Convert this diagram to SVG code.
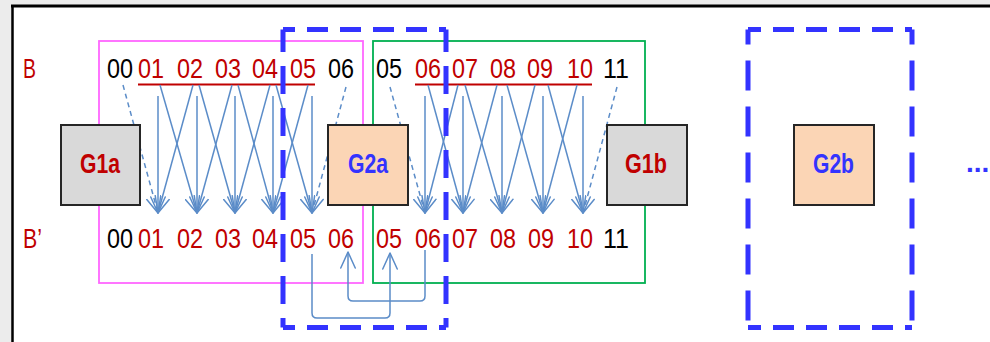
<svg xmlns="http://www.w3.org/2000/svg" width="990" height="342" viewBox="0 0 990 342">
<style>
.num{font-family:"Liberation Sans",Arial,sans-serif;font-size:28px}
.r{fill:#c00000}
.k{fill:#000000}
.gl{font-family:"Liberation Sans",Arial,sans-serif;font-size:28px;font-weight:bold}
.gr{fill:#c00000}
.gb{fill:#3333ff}
.box{stroke:#262626;stroke-width:2}
.gray{fill:#d9d9d9}
.peach{fill:#fbd5b5}
.c{fill:none;stroke:#5b8cc8;stroke-width:1.5;marker-end:url(#ah)}
.d{stroke-dasharray:5 4}
.ul{stroke:#c00000;stroke-width:2}
.bd{fill:none;stroke:#3333ff;stroke-width:5}
.dh{stroke-dasharray:21 12}
.dv{stroke-dasharray:28 14}
.dv2{stroke-dasharray:30 16}
</style>
<defs>
<marker id="ah" viewBox="0 0 18 16" refX="17" refY="8" markerWidth="18" markerHeight="16" markerUnits="userSpaceOnUse" orient="auto">
<path d="M1,0.75 L17,8 L1,15.25" fill="none" stroke="#5b8cc8" stroke-width="1.5" stroke-linejoin="round" stroke-linecap="round"/>
</marker>
</defs>
<rect x="0" y="0" width="990" height="342" fill="#ececec"/>
<rect x="12" y="6" width="978" height="336" fill="#ffffff"/>
<line x1="11" y1="6" x2="990" y2="6" stroke="#000" stroke-width="3"/>
<line x1="12.5" y1="5" x2="12.5" y2="342" stroke="#000" stroke-width="2.5"/>

<g id="frames">
<rect x="99" y="41" width="264" height="242" fill="none" stroke="#ff66ff" stroke-width="1.8"/>
<rect x="373" y="41" width="272" height="242" fill="none" stroke="#00b050" stroke-width="1.8"/>
</g>

<g id="row-labels">
<text class="num r" x="23" y="78" textLength="13" lengthAdjust="spacingAndGlyphs">B</text>
<text class="num r" x="23" y="248" textLength="19" lengthAdjust="spacingAndGlyphs">B’</text>
</g>

<g id="row-B">
<text class="num k" x="107" y="78" textLength="26" lengthAdjust="spacingAndGlyphs">00</text>
<text class="num r" x="138" y="78" textLength="26" lengthAdjust="spacingAndGlyphs">01</text>
<text class="num r" x="177" y="78" textLength="26" lengthAdjust="spacingAndGlyphs">02</text>
<text class="num r" x="215" y="78" textLength="26" lengthAdjust="spacingAndGlyphs">03</text>
<text class="num r" x="252" y="78" textLength="26" lengthAdjust="spacingAndGlyphs">04</text>
<text class="num r" x="290" y="78" textLength="26" lengthAdjust="spacingAndGlyphs">05</text>
<text class="num k" x="328" y="78" textLength="26" lengthAdjust="spacingAndGlyphs">06</text>
<text class="num k" x="376" y="78" textLength="26" lengthAdjust="spacingAndGlyphs">05</text>
<text class="num r" x="415" y="78" textLength="26" lengthAdjust="spacingAndGlyphs">06</text>
<text class="num r" x="452" y="78" textLength="26" lengthAdjust="spacingAndGlyphs">07</text>
<text class="num r" x="490" y="78" textLength="26" lengthAdjust="spacingAndGlyphs">08</text>
<text class="num r" x="527" y="78" textLength="26" lengthAdjust="spacingAndGlyphs">09</text>
<text class="num r" x="567" y="78" textLength="26" lengthAdjust="spacingAndGlyphs">10</text>
<text class="num k" x="603" y="78" textLength="26" lengthAdjust="spacingAndGlyphs">11</text>
<line class="ul" x1="138" y1="84.5" x2="315" y2="84.5"/>
<line class="ul" x1="415" y1="84.5" x2="592" y2="84.5"/>
</g>

<g id="row-Bprime">
<text class="num k" x="107" y="248" textLength="26" lengthAdjust="spacingAndGlyphs">00</text>
<text class="num r" x="138" y="248" textLength="26" lengthAdjust="spacingAndGlyphs">01</text>
<text class="num r" x="177" y="248" textLength="26" lengthAdjust="spacingAndGlyphs">02</text>
<text class="num r" x="215" y="248" textLength="26" lengthAdjust="spacingAndGlyphs">03</text>
<text class="num r" x="252" y="248" textLength="26" lengthAdjust="spacingAndGlyphs">04</text>
<text class="num r" x="290" y="248" textLength="26" lengthAdjust="spacingAndGlyphs">05</text>
<text class="num r" x="328" y="248" textLength="26" lengthAdjust="spacingAndGlyphs">06</text>
<text class="num r" x="376" y="248" textLength="26" lengthAdjust="spacingAndGlyphs">05</text>
<text class="num r" x="415" y="248" textLength="26" lengthAdjust="spacingAndGlyphs">06</text>
<text class="num r" x="452" y="248" textLength="26" lengthAdjust="spacingAndGlyphs">07</text>
<text class="num r" x="490" y="248" textLength="26" lengthAdjust="spacingAndGlyphs">08</text>
<text class="num r" x="528" y="248" textLength="26" lengthAdjust="spacingAndGlyphs">09</text>
<text class="num r" x="567" y="248" textLength="26" lengthAdjust="spacingAndGlyphs">10</text>
<text class="num k" x="603" y="248" textLength="26" lengthAdjust="spacingAndGlyphs">11</text>
</g>

<g id="connectors">
<line class="c d" x1="123" y1="85" x2="158" y2="213"/>
<line class="c" x1="158" y1="96" x2="158" y2="213"/>
<line class="c" x1="197" y1="96" x2="197" y2="213"/>
<line class="c" x1="235" y1="96" x2="235" y2="213"/>
<line class="c" x1="273" y1="96" x2="273" y2="213"/>
<line class="c" x1="312" y1="96" x2="312" y2="213"/>
<line class="c" x1="160" y1="85" x2="197" y2="213"/>
<line class="c" x1="199" y1="85" x2="235" y2="213"/>
<line class="c" x1="238" y1="85" x2="273" y2="213"/>
<line class="c" x1="276" y1="85" x2="312" y2="213"/>
<line class="c" x1="193" y1="85" x2="158" y2="213"/>
<line class="c" x1="232" y1="85" x2="197" y2="213"/>
<line class="c" x1="270" y1="85" x2="235" y2="213"/>
<line class="c" x1="308" y1="85" x2="273" y2="213"/>
<line class="c d" x1="346" y1="87" x2="312" y2="213"/>

<line class="c d" x1="390" y1="87" x2="425" y2="213"/>
<line class="c" x1="425" y1="96" x2="425" y2="213"/>
<line class="c" x1="463" y1="96" x2="463" y2="213"/>
<line class="c" x1="502" y1="96" x2="502" y2="213"/>
<line class="c" x1="543" y1="96" x2="543" y2="213"/>
<line class="c" x1="583" y1="96" x2="583" y2="213"/>
<line class="c" x1="428" y1="85" x2="463" y2="213"/>
<line class="c" x1="465" y1="85" x2="502" y2="213"/>
<line class="c" x1="507" y1="85" x2="543" y2="213"/>
<line class="c" x1="548" y1="85" x2="583" y2="213"/>
<line class="c" x1="458" y1="85" x2="425" y2="213"/>
<line class="c" x1="497" y1="85" x2="463" y2="213"/>
<line class="c" x1="535" y1="85" x2="502" y2="213"/>
<line class="c" x1="577" y1="85" x2="543" y2="213"/>
<line class="c d" x1="617" y1="87" x2="583" y2="213"/>

<path class="c" d="M312,254 V313 Q312,318 317,318 H385 Q390,318 390,313 V253"/>
<path class="c" d="M425,250 V296 Q425,301 420,301 H353 Q348,301 348,296 V252"/>
</g>

<g id="group-G2a-frame">
<line class="bd dh" x1="283" y1="29.5" x2="446" y2="29.5" stroke-dashoffset="9"/>
<line class="bd dh" x1="283" y1="327.5" x2="446" y2="327.5" stroke-dashoffset="9"/>
<line class="bd dv" x1="283" y1="29.5" x2="283" y2="327.5" stroke-dashoffset="5.5"/>
<line class="bd dv" x1="446" y1="29.5" x2="446" y2="327.5" stroke-dashoffset="5.5"/>
</g>
<g id="group-G2b-frame">
<line class="bd dh" x1="748" y1="29.5" x2="912" y2="29.5" stroke-dashoffset="8"/>
<line class="bd dh" x1="748" y1="327.5" x2="912" y2="327.5" stroke-dashoffset="8"/>
<line class="bd dv2" x1="748" y1="29.5" x2="748" y2="327.5" stroke-dashoffset="15"/>
<line class="bd dv2" x1="912" y1="29.5" x2="912" y2="327.5" stroke-dashoffset="15"/>
</g>

<g id="G1a">
<rect class="box gray" x="61" y="125" width="79" height="80"/>
<text class="gl gr" x="80" y="173" textLength="40" lengthAdjust="spacingAndGlyphs">G1a</text>
</g>
<g id="G2a">
<rect class="box peach" x="328" y="125" width="80" height="80"/>
<text class="gl gb" x="348" y="173" textLength="40" lengthAdjust="spacingAndGlyphs">G2a</text>
</g>
<g id="G1b">
<rect class="box gray" x="607" y="125" width="80" height="80"/>
<text class="gl gr" x="625" y="173" textLength="42" lengthAdjust="spacingAndGlyphs">G1b</text>
</g>
<g id="G2b">
<rect class="box peach" x="794" y="125" width="80" height="80"/>
<text class="gl gb" x="813" y="173" textLength="41" lengthAdjust="spacingAndGlyphs">G2b</text>
</g>
<g id="ellipsis">
<text class="gl gb" x="966" y="172" font-size="18">...</text>
</g>
</svg>
